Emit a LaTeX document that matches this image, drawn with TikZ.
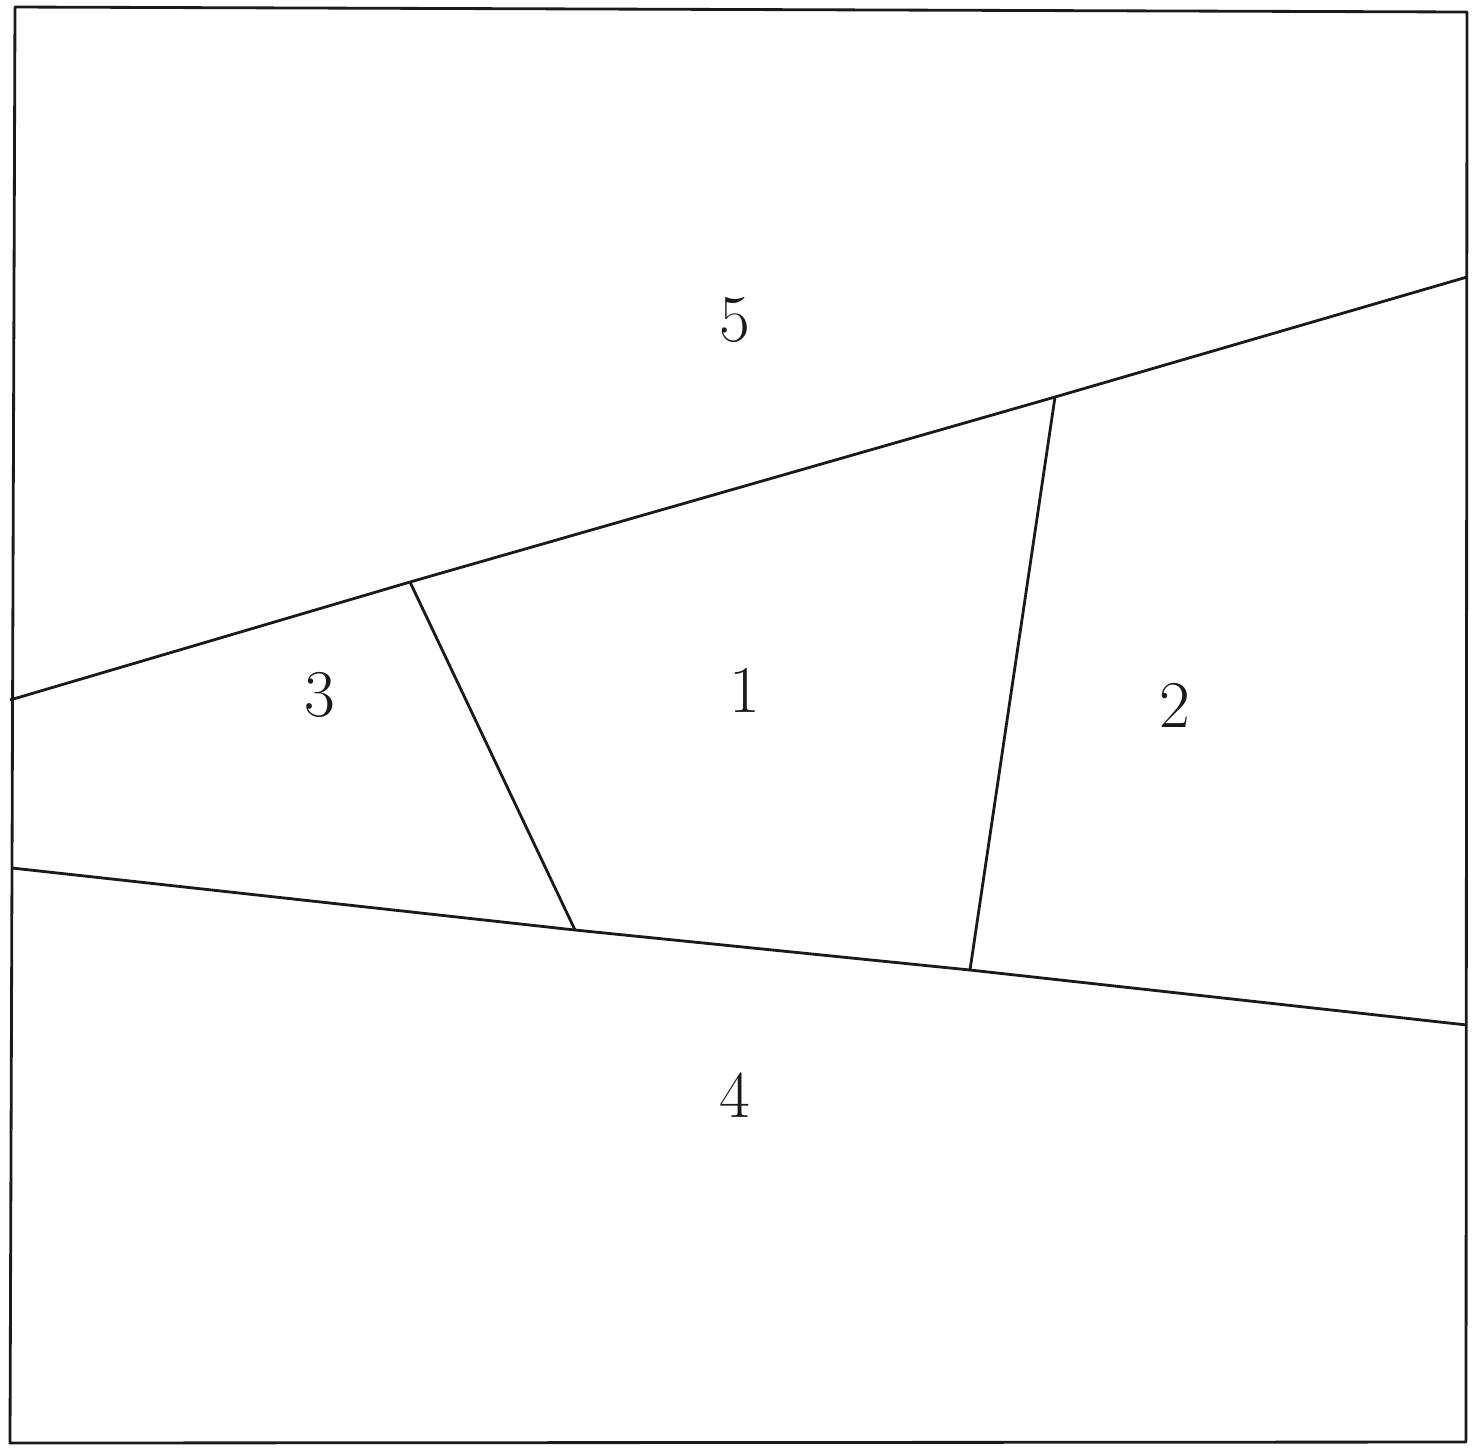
\documentclass[tikz,border=0pt]{standalone}
\usepackage{tikz}
\definecolor{Canvas}{HTML}{FFFFFF}
\definecolor{Ink}{HTML}{1A1A1A}

\begin{document}
\begin{tikzpicture}[x=0.01cm,y=-0.01cm,every node/.style={text=Ink},edge/.style={draw=Ink,line width=0.8pt,line join=round},region/.style={font=\fontsize{19}{22}\selectfont,inner sep=0pt}]
\fill[Canvas] (0,0) rectangle (1478,1450);
\useasboundingbox (0,0) rectangle (1478,1450);
% outer frame
\coordinate (tl) at (15,7);
\coordinate (tr) at (1467,12);
\coordinate (br) at (1466,1442);
\coordinate (bl) at (10,1443);
\draw[edge] (tl) -- (tr) -- (br) -- (bl) -- cycle;
% upper and lower boundaries
\coordinate (uL) at (10,700);
\coordinate (uA) at (410,582);
\coordinate (uB) at (1055,397);
\coordinate (uR) at (1467,277);
\coordinate (lL) at (12,868);
\coordinate (lA) at (575,930);
\coordinate (lB) at (970,970);
\coordinate (lR) at (1467,1025);
\draw[edge] (uL) -- (uA) -- (uB) -- (uR);
\draw[edge] (lL) -- (lA) -- (lB) -- (lR);
% inner cuts
\draw[edge] (uA) -- (lA);
\draw[edge] (uB) -- (lB);
% region numbers
\foreach \name/\x/\y/\lbl in {rFive/735/320/5,rThree/320/695/3,rOne/745/690/1,rTwo/1175/705/2,rFour/735/1095/4}{
  \node[region] (\name) at (\x,\y){\lbl};
}
\end{tikzpicture}
\end{document}
